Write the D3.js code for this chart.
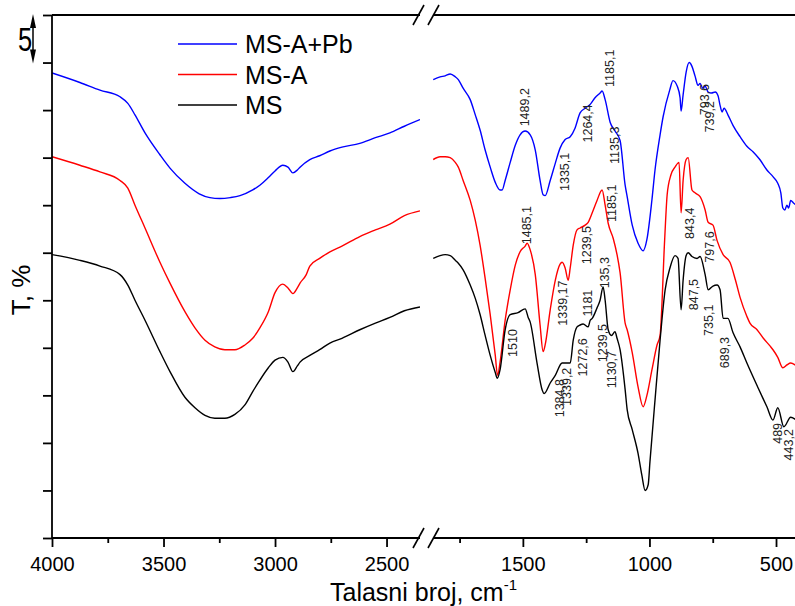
<!DOCTYPE html>
<html><head><meta charset="utf-8">
<script src="https://cdn.jsdelivr.net/npm/d3@7"></script>
<style>body{margin:0;background:#fff}svg{display:block}text{font-family:"Liberation Sans",Arial,sans-serif}</style>
</head><body><svg id="c" width="795" height="606"></svg>
<script>
// ---- data ----
const seriesNames = ["MS-A+Pb", "MS-A", "MS"];
const seriesColors = ["#0000ff", "#ff0000", "#000000"];
const leftMajorTicks = [4000, 3500, 3000, 2500];
const leftMinorTicks = [3750, 3250, 2750];
const rightMajorTicks = [1500, 1000, 500];
const rightMinorTicks = [1750, 1250, 750];
const yTicks = [0,5,10,15,20,25,30,35,40,45,50,55];

const msApbLeft = [[4000,48.9],[3875,47.9],[3785,47.1],[3695,46.4],[3660,45.7],[3628,44.5],[3583,42.6],[3516,40.3],[3471,38.9],[3404,37.3],[3340,36.2],[3292,35.8],[3247,35.7],[3200,35.8],[3157,36.0],[3100,36.6],[3068,37.1],[3030,37.9],[3000,38.6],[2965,39.2],[2942,39.0],[2920,38.4],[2900,38.7],[2888,39.0],[2844,39.8],[2800,40.2],[2754,40.7],[2700,41.1],[2620,41.5],[2550,42.1],[2485,42.6],[2420,43.3],[2350,44.0]];
const msaLeft = [[4000,40.1],[3875,39.2],[3785,38.5],[3695,37.6],[3660,36.8],[3628,35.0],[3583,32.6],[3516,29.0],[3471,26.8],[3404,23.8],[3359,22.1],[3314,20.8],[3270,20.1],[3225,19.8],[3180,19.8],[3135,20.3],[3100,21.0],[3068,22.1],[3030,23.8],[3000,25.8],[2965,26.7],[2942,26.3],[2920,25.7],[2900,26.3],[2888,26.8],[2860,27.7],[2844,28.6],[2800,29.4],[2754,30.1],[2700,30.7],[2620,31.7],[2550,32.4],[2485,33.0],[2420,33.9],[2350,34.4]];
const msLeft = [[4000,29.8],[3875,29.2],[3785,28.6],[3695,27.7],[3660,26.6],[3628,25.0],[3583,22.9],[3516,19.6],[3471,17.5],[3404,14.8],[3359,13.7],[3314,12.9],[3270,12.6],[3225,12.6],[3180,13.0],[3135,14.0],[3100,15.4],[3068,16.6],[3030,17.9],[3000,18.7],[2965,19.0],[2942,18.5],[2920,17.5],[2900,18.1],[2888,18.5],[2844,19.2],[2800,19.8],[2754,20.5],[2700,21.0],[2620,21.9],[2550,22.6],[2485,23.2],[2420,23.9],[2350,24.3]];

const msApbRight = [[1854,48.2],[1827,48.5],[1807,48.6],[1787,48.8],[1767,48.5],[1755,48.2],[1736,47.3],[1708,46.1],[1688,44.5],[1669,42.9],[1649,40.8],[1629,39.0],[1609,37.4],[1590,36.6],[1582,36.6],[1570,37.6],[1550,39.5],[1530,41.3],[1511,42.4],[1491,42.8],[1471,42.4],[1451,40.8],[1432,37.6],[1420,36.1],[1412,36.0],[1392,37.6],[1372,39.4],[1353,41.0],[1333,41.9],[1313,42.2],[1294,43.1],[1274,44.7],[1254,45.2],[1234,45.6],[1215,46.3],[1195,46.8],[1187,47.0],[1175,46.1],[1155,43.7],[1136,42.8],[1116,41.8],[1096,37.1],[1088,35.9],[1068,32.9],[1045,31.0],[1025,30.2],[1010,31.4],[990,35.6],[978,38.7],[958,42.4],[946,44.3],[920,47.1],[907,48.1],[890,47.5],[879,46.3],[875,44.9],[867,46.6],[855,49.0],[843,50.0],[832,49.6],[820,48.6],[808,47.6],[800,47.8],[790,47.3],[780,47.5],[768,46.9],[755,46.8],[740,46.9],[729,46.5],[721,45.5],[713,44.8],[705,45.2],[690,44.5],[670,43.4],[642,42.2],[615,41.2],[590,40.6],[564,39.8],[536,38.7],[512,38.0],[493,37.3],[481,36.3],[473,34.7],[465,34.5],[457,35.0],[450,34.7],[442,35.5],[430,35.2],[420,35.0]];
const msaRight = [[1854,39.8],[1827,40.1],[1807,40.1],[1787,40.0],[1767,39.5],[1755,39.0],[1736,37.6],[1708,35.5],[1688,33.4],[1669,30.8],[1649,27.3],[1629,23.5],[1609,19.2],[1600,17.1],[1590,18.5],[1570,22.9],[1550,26.1],[1530,28.7],[1511,30.1],[1491,30.7],[1483,31.0],[1471,30.3],[1451,27.7],[1432,22.4],[1420,19.6],[1412,20.3],[1392,24.0],[1372,27.1],[1353,28.8],[1345,29.0],[1333,28.4],[1321,27.1],[1313,28.4],[1301,30.8],[1286,32.4],[1274,32.6],[1254,32.9],[1242,33.2],[1226,34.2],[1207,35.5],[1187,36.6],[1175,35.0],[1163,33.1],[1143,31.5],[1128,29.8],[1116,27.9],[1096,22.6],[1088,21.9],[1068,19.5],[1045,15.9],[1025,13.8],[1010,15.0],[990,17.7],[970,20.3],[958,21.3],[940,31.3],[930,36.1],[915,38.2],[899,39.0],[883,39.5],[875,34.2],[867,37.6],[855,39.8],[847,40.0],[832,36.6],[820,36.3],[800,35.9],[780,34.5],[768,33.2],[749,32.9],[733,31.3],[709,29.8],[682,29.0],[660,27.1],[642,25.3],[615,23.3],[603,22.6],[575,21.9],[550,21.0],[524,20.2],[512,19.8],[493,19.0],[473,17.9],[457,18.2],[442,18.4],[420,18.1]];
const msRight = [[1854,29.4],[1827,29.7],[1807,29.8],[1787,29.7],[1767,29.2],[1755,28.9],[1736,28.2],[1708,26.6],[1688,25.2],[1669,23.5],[1649,21.3],[1629,19.2],[1609,17.4],[1601,16.8],[1590,17.7],[1570,21.9],[1550,23.5],[1519,23.7],[1491,24.1],[1479,23.2],[1471,22.7],[1444,18.4],[1424,15.6],[1416,15.2],[1392,16.3],[1372,17.1],[1345,18.4],[1313,18.4],[1301,20.8],[1286,22.2],[1274,22.4],[1262,22.5],[1242,22.2],[1234,22.9],[1226,23.1],[1207,24.2],[1195,25.0],[1183,26.4],[1175,25.0],[1163,21.9],[1150,21.3],[1136,21.7],[1128,21.0],[1116,19.8],[1096,15.6],[1088,13.5],[1068,11.4],[1045,8.9],[1030,6.6],[1017,5.0],[1005,5.6],[998,8.0],[978,14.5],[958,20.8],[938,26.1],[919,28.4],[899,29.7],[887,29.4],[875,24.0],[867,27.1],[855,29.7],[847,30.0],[832,29.6],[812,29.4],[800,29.6],[780,27.7],[768,26.1],[749,26.5],[733,26.6],[721,26.1],[709,23.1],[690,23.1],[670,21.6],[642,20.1],[615,18.4],[571,15.8],[536,13.8],[512,12.4],[493,13.7],[469,11.7],[442,12.7],[420,12.4]];

const annotations = [
 ["1489,2",1491,45.3],["1335,1",1333,38.5],["1264,4",1242,43.6],["1185,1",1155,49.4],["1135,3",1136,41.3],["793,6",780,46.1],["739,2",761,44.3],
 ["1485,1",1483,32.9],["1510",1538,20.5],["1339,17",1341,24.7],["1239,5",1246,30.8],["1185,1",1147,35.2],["843,4",839,33.1],["797,6",761,30.6],
 ["1181",1242,24.7],["135,3",1175,27.9],["1384,8",1352,14.7],["1339,2",1325,15.9],["1272,6",1262,19.0],["1239,5",1183,20.5],["1130,7",1147,17.7],["847,5",823,25.6],["735,1",764,22.9],["689,3",701,19.5],["489",493,11.0],["443,2",449,9.8]
];

// ---- layout ----
const svg = d3.select("#c");
const pTop = 15, pBottom = 538, pLeft = 52, pRight = 795;
const xL = d3.scaleLinear().domain([4000, 2350]).range([52, 420]);
const xR = d3.scaleLinear().domain([1855, 425]).range([433, 795]);
const y = d3.scaleLinear().domain([0, 55]).range([pBottom, pTop]);

const defs = svg.append("defs");
defs.append("clipPath").attr("id","clipL").append("rect").attr("x",52).attr("y",pTop).attr("width",368).attr("height",pBottom-pTop);
defs.append("clipPath").attr("id","clipR").append("rect").attr("x",433).attr("y",pTop).attr("width",362).attr("height",pBottom-pTop);

const leftData = [msApbLeft, msaLeft, msLeft];
const rightData = [msApbRight, msaRight, msRight];
const lineL = d3.line().x(d=>xL(d[0])).y(d=>y(d[1])).curve(d3.curveMonotoneX);
const lineR = d3.line().x(d=>xR(d[0])).y(d=>y(d[1])).curve(d3.curveMonotoneX);

const gL = svg.append("g").attr("clip-path","url(#clipL)");
const gR = svg.append("g").attr("clip-path","url(#clipR)");
leftData.forEach((d,i)=>gL.append("path").attr("d",lineL(d)).attr("fill","none").attr("stroke",seriesColors[i]).attr("stroke-width",1.4));
rightData.forEach((d,i)=>gR.append("path").attr("d",lineR(d)).attr("fill","none").attr("stroke",seriesColors[i]).attr("stroke-width",1.4));

// annotations
svg.append("g").selectAll("text").data(annotations).join("text")
  .attr("transform", d=>`translate(${xR(d[1])},${y(d[2])}) rotate(-90)`)
  .attr("text-anchor","middle").attr("dominant-baseline","central")
  .attr("font-size",12.5).attr("fill","#222").text(d=>d[0]);

// axes
const axStroke = 1.8;
function styleAxis(g){ g.select(".domain").remove(); g.selectAll("line").attr("stroke","#000").attr("stroke-width",axStroke); g.selectAll("text").attr("font-size",20).attr("fill","#000"); }
svg.append("g").attr("transform",`translate(0,${pBottom})`).call(d3.axisBottom(xL).tickValues(leftMajorTicks).tickSize(9).tickPadding(10).tickFormat(d3.format("d"))).call(styleAxis);
svg.append("g").attr("transform",`translate(0,${pBottom})`).call(d3.axisBottom(xL).tickValues(leftMinorTicks).tickSize(5).tickFormat("")).call(styleAxis);
svg.append("g").attr("transform",`translate(0,${pBottom})`).call(d3.axisBottom(xR).tickValues(rightMajorTicks).tickSize(9).tickPadding(10).tickFormat(d3.format("d"))).call(styleAxis);
svg.append("g").attr("transform",`translate(0,${pBottom})`).call(d3.axisBottom(xR).tickValues(rightMinorTicks).tickSize(5).tickFormat("")).call(styleAxis);
svg.append("g").attr("transform",`translate(${pLeft},0)`).call(d3.axisLeft(y).tickValues(yTicks).tickSize(9).tickFormat("")).call(styleAxis);

// frame lines with breaks
const fr = svg.append("g").attr("stroke","#000").attr("stroke-width",axStroke).attr("fill","none");
fr.append("line").attr("x1",pLeft).attr("x2",pLeft).attr("y1",pTop).attr("y2",pBottom);
[pTop, pBottom].forEach(yy=>{
  fr.append("line").attr("x1",pLeft).attr("x2",420).attr("y1",yy).attr("y2",yy);
  fr.append("line").attr("x1",433).attr("x2",pRight).attr("y1",yy).attr("y2",yy);
  fr.append("line").attr("x1",413).attr("y1",yy+10).attr("x2",424).attr("y2",yy-10).attr("stroke-width",1.6);
  fr.append("line").attr("x1",428).attr("y1",yy+10).attr("x2",439).attr("y2",yy-10).attr("stroke-width",1.6);
});

// scale bar (5 units)
const sb = svg.append("g");
const sx = 33;
sb.append("line").attr("x1",sx).attr("x2",sx).attr("y1",y(55)+10).attr("y2",y(50)-10).attr("stroke","#000").attr("stroke-width",1.5);
sb.append("path").attr("d",`M${sx},${y(55)-1} L${sx-3},${y(55)+13} L${sx+3},${y(55)+13} Z`).attr("fill","#000");
sb.append("path").attr("d",`M${sx},${y(50)+1} L${sx-3},${y(50)-13} L${sx+3},${y(50)-13} Z`).attr("fill","#000");
sb.append("text").attr("transform",`translate(25,${(y(55)+y(50))/2+12}) scale(0.75,1)`).attr("text-anchor","middle").attr("font-size",34).text("5");

// axis titles
svg.append("text").attr("transform","translate(30,290) rotate(-90)").attr("text-anchor","middle").attr("font-size",26).text("T, %");
const xt = svg.append("text").attr("x",330).attr("y",601).attr("font-size",25);
xt.append("tspan").text("Talasni broj, cm");
xt.append("tspan").attr("font-size",15).attr("dy",-11).text("-1");

// legend
const lg = svg.append("g");
seriesNames.forEach((n,i)=>{
  const yy = 44 + i*30.5;
  lg.append("line").attr("x1",178).attr("x2",237).attr("y1",yy).attr("y2",yy).attr("stroke",seriesColors[i]).attr("stroke-width",1.4);
  lg.append("text").attr("x",245).attr("y",yy+9).attr("font-size",25).text(n);
});
</script></body></html>
